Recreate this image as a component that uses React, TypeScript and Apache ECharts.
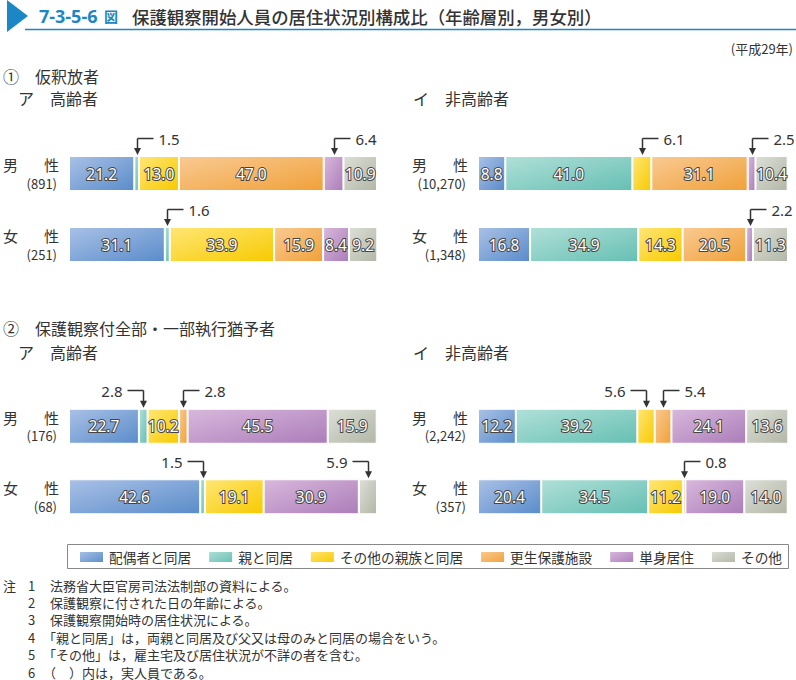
import React, { useEffect, useRef } from "react";
import * as echarts from "echarts";

const FONT = '"Noto Sans CJK JP", "Noto Sans", sans-serif';
const NUMFONT = '"Noto Sans", "Noto Sans CJK JP", sans-serif';

const categories = ["男性", "女性"];
const seriesNames = ["配偶者と同居", "親と同居", "その他の親族と同居", "更生保護施設", "単身居住", "その他"];

// ① 仮釈放者 ア 高齢者
const p1OldCounts = ["891", "251"];
const p1OldMale = [21.2, 1.5, 13.0, 47.0, 6.4, 10.9];
const p1OldFemale = [31.1, 1.6, 33.9, 15.9, 8.4, 9.2];
// ① 仮釈放者 イ 非高齢者
const p1YoungCounts = ["10,270", "1,348"];
const p1YoungMale = [8.8, 41.0, 6.1, 31.1, 2.5, 10.4];
const p1YoungFemale = [16.8, 34.9, 14.3, 20.5, 2.2, 11.3];
// ② 保護観察付全部・一部執行猶予者 ア 高齢者
const p2OldCounts = ["176", "68"];
const p2OldMale = [22.7, 2.8, 10.2, 2.8, 45.5, 15.9];
const p2OldFemale = [42.6, 1.5, 19.1, 0, 30.9, 5.9];
// ② イ 非高齢者
const p2YoungCounts = ["2,242", "357"];
const p2YoungMale = [12.2, 39.2, 5.6, 5.4, 24.1, 13.6];
const p2YoungFemale = [20.4, 34.5, 11.2, 0.8, 19.0, 14.0];

// callouts: [row, segment, side]
const p1OldCallouts = [[0, 1, "R"], [0, 4, "R"], [1, 1, "R"]];
const p1YoungCallouts = [[0, 2, "R"], [0, 4, "R"], [1, 4, "R"]];
const p2OldCallouts = [[0, 1, "L"], [0, 3, "R"], [1, 1, "L"], [1, 5, "L"]];
const p2YoungCallouts = [[0, 2, "L"], [0, 3, "R"], [1, 3, "R"]];

const colorPairs = [
  ["#a9c1e6", "#5a8cca"],
  ["#b0e0d8", "#66bfb3"],
  ["#ffe675", "#f7ca00"],
  ["#f9ca92", "#f0a13a"],
  ["#d8b8dc", "#ab7db9"],
  ["#dcdfd6", "#b2b7a7"],
];

const notes = [
  ["注", "1", "法務省大臣官房司法法制部の資料による。"],
  ["", "2", "保護観察に付された日の年齢による。"],
  ["", "3", "保護観察開始時の居住状況による。"],
  ["", "4", "「親と同居」は，両親と同居及び父又は母のみと同居の場合をいう。"],
  ["", "5", "「その他」は，雇主宅及び居住状況が不詳の者を含む。"],
  ["", "6", "（　）内は，実人員である。"],
];

export default function App() {
  const ref = useRef<HTMLDivElement>(null);
  useEffect(() => {
    if (!ref.current) return;
    const chart = echarts.init(ref.current, null, { renderer: "svg" });
    const panels = [
      { left: 68, top: 138, width: 309, height: 142, rows: [p1OldMale, p1OldFemale], counts: p1OldCounts, callouts: p1OldCallouts },
      { left: 478, top: 138, width: 310, height: 142, rows: [p1YoungMale, p1YoungFemale], counts: p1YoungCounts, callouts: p1YoungCallouts },
      { left: 68, top: 391, width: 309, height: 141, rows: [p2OldMale, p2OldFemale], counts: p2OldCounts, callouts: p2OldCallouts },
      { left: 478, top: 391, width: 310, height: 141, rows: [p2YoungMale, p2YoungFemale], counts: p2YoungCounts, callouts: p2YoungCallouts },
    ];
    const grads = colorPairs.map(([a, b]) => ({
      type: "linear", x: 0, y: 0, x2: 1, y2: 1,
      colorStops: [{ offset: 0, color: a }, { offset: 1, color: b }],
    }));
    const series: any[] = [];
    panels.forEach((p, pi) => {
      seriesNames.forEach((name, si) => {
        series.push({
          type: "bar",
          name,
          stack: "s" + pi,
          xAxisIndex: pi,
          yAxisIndex: pi,
          barWidth: 35,
          itemStyle: { color: grads[si], borderColor: "#fff", borderWidth: 1 },
          label: {
            position: "inside",
            color: "#fff",
            fontFamily: NUMFONT,
            fontSize: 15.5,
            textBorderColor: "#444",
            textBorderWidth: 2,
            formatter: (d: any) => Number(d.value).toFixed(1),
          },
          data: p.rows.map((r) => ({ value: r[si], label: { show: r[si] >= 7 } })),
        });
      });
    });
    const option: any = {
      animation: false,
      backgroundColor: "#fff",
      textStyle: { fontFamily: FONT },
      grid: panels.map((p) => ({ left: p.left, top: p.top, width: p.width, height: p.height })),
      xAxis: panels.map((p, pi) => ({ type: "value", gridIndex: pi, min: 0, max: 100, show: false })),
      yAxis: panels.map((p, pi) => ({
        type: "category",
        gridIndex: pi,
        inverse: true,
        data: categories,
        axisLine: { show: false },
        axisTick: { show: false },
        axisLabel: {
          margin: 10,
          align: "right",
          formatter: (v: string, idx: number) => `{m|${v[0]}}{s|${v[1]}}\n{n|(${p.counts[idx]})}`,
          rich: {
            m: { fontSize: 15, color: "#333", fontFamily: FONT, lineHeight: 19 },
            s: { fontSize: 15, color: "#333", fontFamily: FONT, lineHeight: 19, padding: [0, 0, 0, 26] },
            n: { fontSize: 13, color: "#333", fontFamily: FONT, lineHeight: 18, padding: [0, 2, 0, 0] },
          },
        },
      })),
      legend: {
        left: 78,
        top: 550,
        padding: 0,
        itemWidth: 25,
        itemHeight: 12,
        itemGap: 16,
        icon: "rect",
        data: seriesNames,
        textStyle: { fontSize: 13.7, color: "#333", fontFamily: FONT },
      },
      series,
    };
    chart.setOption(option);

    const g: any[] = [];
    const txt = (x: number, y: number, text: string, opt: any = {}) =>
      g.push({
        type: "text", x, y, silent: true,
        style: { text, fill: "#333", fontSize: 16, fontFamily: FONT, align: "left", verticalAlign: "middle", ...opt },
      });
    // title
    g.push({ type: "polygon", shape: { points: [[7, 0], [28, 16], [7, 32]] }, style: { fill: "#1b87c5" } });
    g.push({ type: "line", shape: { x1: 25, y1: 29.5, x2: 796, y2: 29.5 }, style: { stroke: "#1b87c5", lineWidth: 1.5 } });
    txt(39, 16, "7-3-5-6", { fill: "#1b87c5", fontSize: 18, fontWeight: "bold", fontFamily: NUMFONT });
    txt(104, 16, "図", { fill: "#1b87c5", fontSize: 14, fontWeight: "bold" });
    txt(132, 16, "保護観察開始人員の居住状況別構成比（年齢層別，男女別）", { fontSize: 17.4, fontWeight: 500 });
    txt(793, 48, "(平成29年)", { fontSize: 13, align: "right" });
    // section headings
    txt(3, 76, "①　仮釈放者");
    txt(18, 98, "ア　高齢者");
    txt(413, 98, "イ　非高齢者");
    txt(3, 328, "②　保護観察付全部・一部執行猶予者");
    txt(18, 352, "ア　高齢者");
    txt(413, 352, "イ　非高齢者");
    // legend box
    g.push({ type: "rect", shape: { x: 67.5, y: 544.5, width: 721, height: 24 }, style: { fill: "none", stroke: "#888", lineWidth: 1 } });
    // notes
    notes.forEach((n, i) => {
      const y = 585 + i * 17.4;
      if (n[0]) txt(3, y, n[0], { fontSize: 13 });
      txt(28, y, n[1], { fontSize: 13 });
      const startsBracket = n[2][0] === "「" || n[2][0] === "（";
      txt(startsBracket ? 43 : 50, y, n[2], { fontSize: 13 });
    });
    // callouts
    panels.forEach((p, pi) => {
      p.callouts.forEach(([row, seg, side]: any) => {
        const vals = p.rows[row];
        let start = 0;
        for (let k = 0; k < seg; k++) start += vals[k];
        const mid = start + vals[seg] / 2;
        const pt = chart.convertToPixel({ xAxisIndex: pi, yAxisIndex: pi } as any, [mid, categories[row]]) as number[];
        const cx = Math.round(pt[0]) + 0.5;
        const barTop = pt[1] - 17.5;
        const ly = Math.round(barTop - 18.5) + 0.5;
        const stroke = { stroke: "#333", lineWidth: 1.5 };
        g.push({ type: "line", shape: { x1: cx, y1: ly, x2: cx, y2: barTop - 6 }, style: stroke });
        g.push({ type: "polygon", shape: { points: [[cx - 3.5, barTop - 8], [cx + 3.5, barTop - 8], [cx, barTop - 1]] }, style: { fill: "#333" } });
        if (side === "R") {
          g.push({ type: "line", shape: { x1: cx, y1: ly, x2: cx + 16, y2: ly }, style: stroke });
          txt(cx + 21, ly, vals[seg].toFixed(1), { fontSize: 15, fontFamily: NUMFONT });
        } else {
          g.push({ type: "line", shape: { x1: cx - 16, y1: ly, x2: cx, y2: ly }, style: stroke });
          txt(cx - 21, ly, vals[seg].toFixed(1), { fontSize: 15, fontFamily: NUMFONT, align: "right" });
        }
      });
    });
    chart.setOption({ graphic: g });
    return () => chart.dispose();
  }, []);
  return <div ref={ref} style={{ position: "absolute", left: 0, top: 0, width: 796, height: 680, background: "#fff" }} />;
}
